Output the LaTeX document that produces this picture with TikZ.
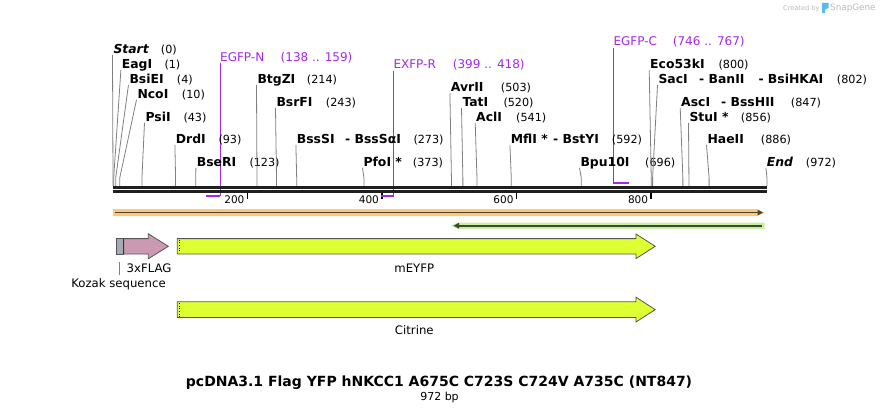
\documentclass[tikz,border=0pt]{standalone}
\usepackage{fontspec}
\setmainfont{DejaVu Sans}[ItalicFont={DejaVu Sans Oblique},BoldFont={DejaVu Sans Bold},BoldItalicFont={DejaVu Sans Bold Oblique}]
\usetikzlibrary{arrows.meta}
\definecolor{primc}{RGB}{160,40,240}
\definecolor{leadc}{RGB}{128,128,128}
\definecolor{orhalo}{RGB}{250,200,120}
\definecolor{orline}{RGB}{80,66,50}
\definecolor{grhalo}{RGB}{198,240,160}
\definecolor{grline}{RGB}{60,72,50}
\definecolor{yfp}{RGB}{222,255,50}
\definecolor{flagc}{RGB}{204,153,179}
\definecolor{kozakc}{RGB}{165,170,180}
\definecolor{outl}{RGB}{85,85,85}
\definecolor{wmc}{RGB}{185,185,185}
\definecolor{sgblue}{RGB}{90,185,235}
\newcommand\bpx[1]{113+0.6728*#1}
\begin{document}
\begin{tikzpicture}[x=1pt,y=-1pt,
  enz/.style={font=\fontsize{12.4}{14}\selectfont\bfseries, anchor=base west, inner sep=0pt},
  num/.style={font=\fontsize{11.2}{13}\selectfont, anchor=base west, inner sep=0pt},
  lead/.style={draw=leadc, line width=0.8pt},
  primlbl/.style={text=primc, font=\fontsize{12}{14}\selectfont, anchor=base west, inner sep=0pt},
  primline/.style={draw=primc, line width=1.3pt},
  primbar/.style={draw=primc, line width=2pt},
  seqline/.style={draw=black!88, line width=2.6pt},
  tickmark/.style={draw=black, line width=1.6pt},
  ticklbl/.style={font=\fontsize{10.5}{12}\selectfont, anchor=base east, inner sep=0pt},
  feat/.style={draw=outl, line width=0.8pt},
  featlbl/.style={font=\fontsize{11.7}{13}\selectfont, anchor=base, inner sep=0pt},
  wm/.style={text=wmc, anchor=base west, inner sep=0pt}]
\useasboundingbox (0,0) rectangle (880,412);

% watermark
\node[wm, font=\fontsize{6.6}{8}\selectfont] (wmcr) at (783,10.5) {Created by};
\fill[sgblue] (822,3) -- (828.5,3) -- (828.5,8) -- (825,9.5) -- (825,13) -- (822,13) -- cycle;
\node[wm, font=\fontsize{8.8}{10}\selectfont] (wmsg) at (830,11) {SnapGene};

% primer verticals (under the sequence line)
\node[primlbl] (pn) at (220,61) {EGFP-N};
\node[primlbl] (pnn) at (280.5,61) {(138 .. 159)};
\node[primlbl] (pr) at (393.3,68) {EXFP-R};
\node[primlbl] (prn) at (452.7,68) {(399 .. 418)};
\node[primlbl] (pc) at (613.3,46) {EGFP-C};
\node[primlbl] (pcn) at (672.7,46) {(746 .. 767)};
\coordinate (pnA) at (220.3,196);
\coordinate (pnB) at ({\bpx{138}},196);
\coordinate (prA) at (393.5,196);
\coordinate (prB) at ({\bpx{399}},196);
\coordinate (pcA) at (613.4,182.7);
\coordinate (pcB) at ({\bpx{767}},182.7);
\draw[primline] (220.3,63.5) -- (pnA);
\draw[primline] (393.5,70.5) -- (prA);
\draw[primline] (613.4,48.5) -- (pcA);

% enzyme sites
\foreach \nm/\txt/\lx/\ly/\nt/\nx/\pos in {
  st/\textit{Start}/113.3/53/(0)/160.7/0,
  eag/EagI/121.7/68/(1)/164.3/1,
  bsie/BsiEI/129.3/83/(4)/176.7/4,
  nco/NcoI/137.3/98/(10)/181.7/10,
  psi/PsiI/145.3/121/(43)/183.3/43,
  drd/DrdI/175.7/143/(93)/218.3/93,
  bser/BseRI/196.7/166/(123)/249.3/123,
  btg/BtgZI/257.3/83/(214)/306.7/214,
  bsrf/BsrFI/276.3/106/(243)/325.7/243,
  bsss/BssSI/296.7/143/(273)/413.3/273,
  pfo/PfoI */363.3/166/(373)/412.7/373,
  avr/AvrII/450.7/91/(503)/500.7/503,
  tat/TatI/462.3/106/(520)/503.3/520,
  acl/AclI/476/121/(541)/516/541,
  mfl/MflI */510.7/143/(592)/611.7/592,
  bpu/Bpu10I/580.3/166/(696)/645/696,
  eco/Eco53kI/650/68/(800)/718.3/800,
  sac/SacI/658.3/83/(802)/836.7/802,
  asc/AscI/681/106/(847)/790.7/847,
  stu/StuI */689.3/121/(856)/740.7/856,
  hae/HaeII/707.3/143/(886)/760.7/886,
  en/\textit{End}/766.7/166/(972)/805.7/972}
{
  \node[enz] (\nm) at (\lx,\ly) {\txt};
  \node[num] (\nm n) at (\nx,\ly) {\nt};
  \coordinate (\nm s) at ({\bpx{\pos}},186);
  \draw[lead] ([xshift=-0.8pt,yshift=-1.8pt]\nm.base west) -- ({\bpx{\pos}},178) -- (\nm s);
}
\node[enz] (bsss2) at (345,143) {- BssSαI};
\node[enz] (mfl2) at (553,143) {- BstYI};
\node[enz] (sac2) at (699,83) {- BanII};
\node[enz] (sac3) at (758.3,83) {- BsiHKAI};
\node[enz] (asc2) at (721,106) {- BssHII};

% sequence line
\coordinate (s0) at (113,0);
\coordinate (s1) at (767,0);
\draw[seqline] (113,187.4) -- (767,187.4);
\draw[seqline] (113,191.4) -- (767,191.4);

% ticks
\foreach \t in {200,400,600,800}{
  \draw[tickmark] ({\bpx{\t}},192.6) -- ({\bpx{\t}},199.2);
  \node[ticklbl] (tk\t) at ({\bpx{\t}-3},203.4) {\t};
}

% primer bars
\draw[primbar] (pnB) -- (pnA);
\draw[primbar] (prB) -- (prA);
\draw[primbar] (pcA) -- (pcB);

% orange and green bands
\coordinate (oa) at (115,212.6);
\coordinate (ob) at (763,212.6);
\fill[orhalo] (113,209.2) -- (757,209.2) -- (764.8,212.6) -- (757,216) -- (113,216) -- cycle;
\draw[orline, line width=1.7pt, -{Triangle[length=5.5pt,width=5.5pt]}] (oa) -- (ob);
\coordinate (ga) at (762,225.7);
\coordinate (gb) at (453.5,225.7);
\fill[grhalo] (764.5,222.6) -- (458,222.6) -- (450.5,225.7) -- (458,228.8) -- (764.5,228.8) -- cycle;
\draw[grline, line width=1.7pt, -{Triangle[length=5.5pt,width=5.5pt]}] (ga) -- (gb);

% features
\draw[feat, fill=kozakc] (116.3,238.6) rectangle (123.6,254);
\draw[feat, fill=flagc] (123.6,238.6) -- (148.3,238.6) -- (148.3,233.8) -- (168.3,246.3) -- (148.3,258.8) -- (148.3,254) -- (123.6,254) -- cycle;
\draw[draw=black!80, line width=1.4pt] (123.6,238.6) -- (123.6,254);
\draw[feat, fill=yfp] (177.3,238.6) -- (636,238.6) -- (636,234) -- (655.2,246.3) -- (636,258.6) -- (636,254) -- (177.3,254) -- cycle;
\draw[dotted, line width=0.7pt] (178.9,239.6) -- (178.9,253);
\draw[feat, fill=yfp] (177.3,301.8) -- (636,301.8) -- (636,297.2) -- (655.2,309.6) -- (636,322) -- (636,317.4) -- (177.3,317.4) -- cycle;
\draw[dotted, line width=0.7pt] (178.9,302.8) -- (178.9,316.4);

\node[featlbl, anchor=base west] (flaglbl) at (126.5,272) {3xFLAG};
\draw[lead] (119.3,262.3) -- (119.3,275);
\node[featlbl] (kozlbl) at (118.5,287.5) {Kozak sequence};
\node[featlbl] (eyfplbl) at (414.3,272) {mEYFP};
\node[featlbl] (citlbl) at (414.3,334.5) {Citrine};

% title
\node[font=\fontsize{14}{16}\selectfont\bfseries, anchor=base, inner sep=0pt] (title) at (439,386.5) {pcDNA3.1 Flag YFP hNKCC1 A675C C723S C724V A735C (NT847)};
\node[font=\fontsize{11}{13}\selectfont, anchor=base, inner sep=0pt] (bp) at (439.5,400.3) {972 bp};
\end{tikzpicture}
\end{document}
